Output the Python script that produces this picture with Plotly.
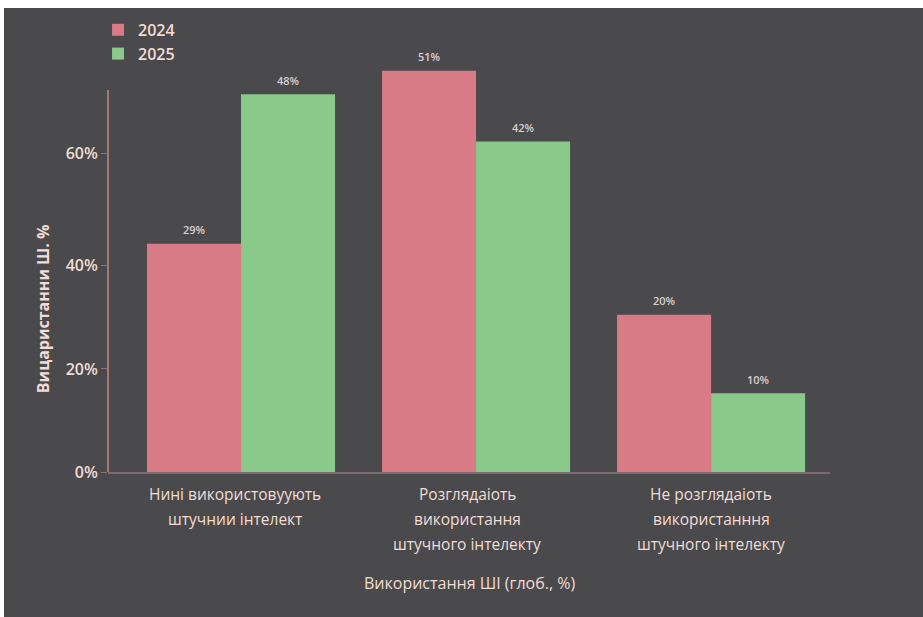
import plotly.graph_objects as go

categories = ["Нині використовуують<br>штучнии інтелект",
              "Розглядаіоть<br>використання<br>штучного інтелекту",
              "Не розглядаіоть<br>використанння<br>штучного інтелекту"]
series_names = ["2024", "2025"]
values_2024 = [29, 51, 20]
values_2025 = [48, 42, 10]
tick_positions = [0, 13.1, 26.2, 40.5]
tick_labels = ["0%", "20%", "40%", "60%"]
x_title = "Використання ШІ (глоб., %)"
y_title = "Вицаристанни Ш. %"

BG = "#4a4a4c"
TXT = "#f2dcd4"
PINK = "#d97b86"
GREEN = "#89ca8b"
FONT = "Open Sans"
label_xshift = [-6, -9, 0]       # layout tweak: horizontal nudge of category labels (px)
line_offsets = [22, 47, 72]      # layout: px below the plot for each label line

fig = go.Figure()
for name, vals, col in [(series_names[0], values_2024, PINK), (series_names[1], values_2025, GREEN)]:
    fig.add_trace(go.Bar(x=categories, y=vals, name=name,
                         marker=dict(color=col, line=dict(width=0))))

annotations = []
for vals, shift in [(values_2024, -47), (values_2025, 47)]:
    for c, v in zip(categories, vals):
        annotations.append(dict(text=f"{v}%", x=c, y=v, xref="x", yref="y",
                                xshift=shift, yshift=14, showarrow=False,
                                xanchor="center", yanchor="middle",
                                font=dict(size=11, color="#d9cfcf", family=FONT, weight=600)))
for c, dx in zip(categories, label_xshift):
    for i, line in enumerate(c.split("<br>")):
        annotations.append(dict(text=line, x=c, y=0, xref="x", yref="paper",
                                xshift=dx, yshift=-line_offsets[i], showarrow=False,
                                xanchor="center", yanchor="middle",
                                font=dict(size=15.5, color=TXT, family=FONT)))
annotations.append(dict(text=x_title, x=0.5, y=0, xref="paper", yref="paper",
                        yshift=-111, showarrow=False, xanchor="center", yanchor="middle",
                        font=dict(size=16, color=TXT, family=FONT)))
annotations.append(dict(text=y_title, textangle=-90, xref="paper", yref="y", x=0, y=20.7,
                        xanchor="center", yanchor="middle", xshift=-65, showarrow=False,
                        font=dict(size=16, color=TXT, family=FONT, weight=700)))

fig.update_layout(
    width=923, height=617,
    paper_bgcolor=BG, plot_bgcolor=BG,
    margin=dict(l=104, r=97, t=47, b=153, autoexpand=False),
    barmode="group", bargap=0.2, bargroupgap=0,
    font=dict(family=FONT, color=TXT, size=14),
    showlegend=True,
    legend=dict(x=-0.0138, y=1.101, xanchor="left", yanchor="top", bgcolor="rgba(0,0,0,0)",
                font=dict(size=16, color=TXT, weight=600), itemsizing="constant", tracegroupgap=0),
    xaxis=dict(range=[-0.566, 2.506], showline=True, linecolor="#7d6a6a", linewidth=1.5,
               ticks="", showticklabels=False, showgrid=False),
    yaxis=dict(range=[0, 53.0], showline=False, showgrid=False, zeroline=False,
               tickmode="array", tickvals=tick_positions, ticktext=tick_labels,
               ticks="outside", ticklen=6, tickcolor="#8c7674", tickwidth=1,
               tickfont=dict(size=16, color=TXT, weight=600)),
    shapes=[
        dict(type="line", xref="paper", yref="y", x0=0, x1=0, y0=0, y1=48.55,
             line=dict(color="#c9887f", width=1.5)),
    ],
    annotations=annotations,
)

fig.write_html("out.html",
               post_script="document.documentElement.style.background='" + BG + "';"
                           "document.documentElement.style.overflow='hidden';"
                           "document.body.style.background='" + BG + "';"
                           "document.body.style.margin='0';"
                           "document.body.style.borderTop='8px solid white';"
                           "document.body.style.borderLeft='4px solid white';"
                           "document.body.style.overflow='hidden';")
